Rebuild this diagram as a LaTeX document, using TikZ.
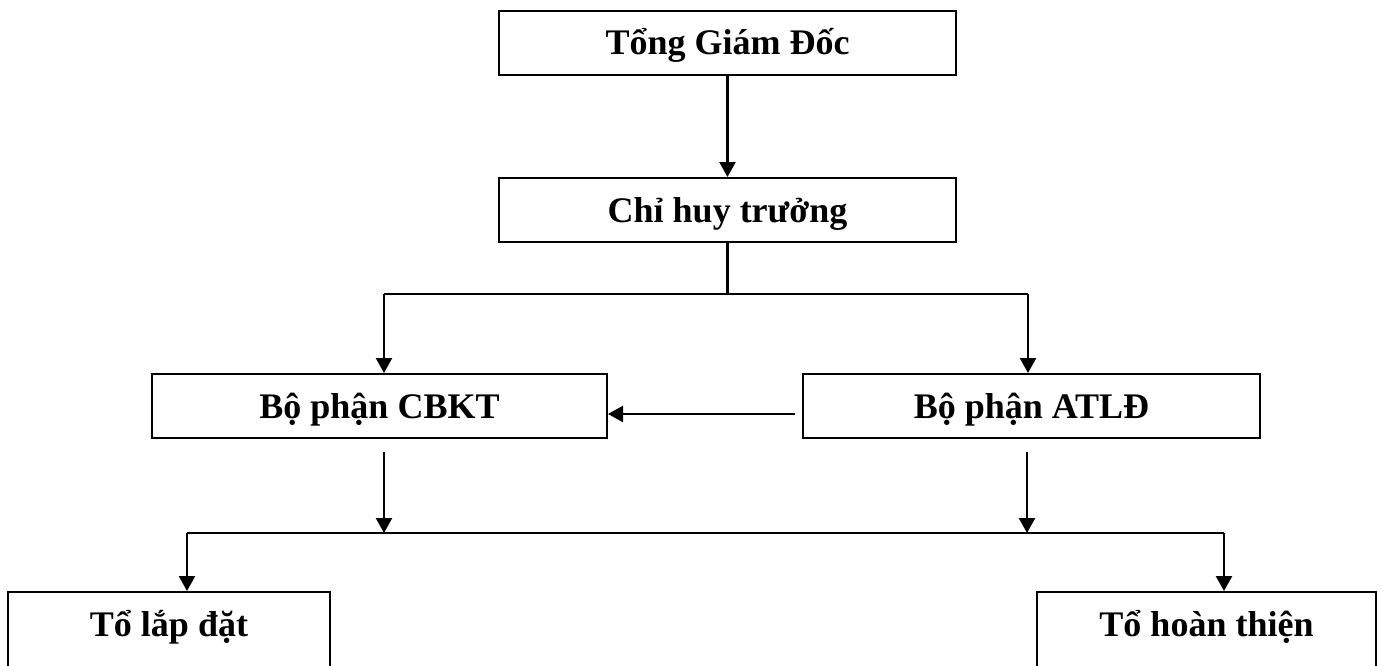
\documentclass[tikz,border=0pt]{standalone}
\usepackage{fontspec}
\setmainfont{Liberation Serif}
\usetikzlibrary{arrows.meta,calc}
\begin{document}
\begin{tikzpicture}[x=1pt,y=-1pt,
  box/.style={draw,line width=2pt,inner sep=0pt,
    font=\fontsize{36}{40}\selectfont\bfseries,
    text height=24pt,text depth=0pt,minimum height=64pt},
  lowbox/.style={draw,line width=2pt,inner xsep=0pt,inner ysep=20pt,
    font=\fontsize{36}{40}\selectfont\bfseries,
    text height=24pt,text depth=80pt,anchor=north},
  conn/.style={line width=2.4pt},
  arr/.style={line width=2.4pt,-{Triangle[width=16pt,length=15pt]}}]
\useasboundingbox (0,0) rectangle (1381,666);
\fill[white] (0,0) rectangle (1381,666);
\clip (0,0) rectangle (1381,666);

\node[box,minimum width=457pt] (tgd) at (727.5,43) {Tổng Giám Đốc};
\node[box,minimum width=457pt] (cht) at (727.5,210) {Chỉ huy trưởng};
\node[box,minimum width=455pt] (cbkt) at (379.5,406) {Bộ phận CBKT};
\node[box,minimum width=457pt] (atld) at (1031.5,406) {Bộ phận ATLĐ};
\node[lowbox,minimum width=322pt] (tld) at (169,591) {Tổ lắp đặt};
\node[lowbox,minimum width=339pt] (tht) at (1206.5,591) {Tổ hoàn thiện};

\coordinate (b1L) at (384,294);
\coordinate (b1R) at (1028,294);
\coordinate (c1) at (795,414);
\coordinate (d1) at (384,452);
\coordinate (d2) at (1027,452);
\coordinate (b2L) at (187,533);
\coordinate (b2R) at (1224,533);

\draw[arr] (tgd) -- (cht);
\draw[conn] (cht.south) -- (cht.south |- b1L);
\draw[conn] (b1L) -- (b1R);
\draw[arr] (b1L) -- (b1L |- cbkt.north);
\draw[arr] (b1R) -- (b1R |- atld.north);
\draw[arr] (c1) -- (c1 -| cbkt.east);
\draw[arr] (d1) -- (d1 |- b2L);
\draw[arr] (d2) -- (d2 |- b2R);
\draw[conn] (b2L) -- (b2R);
\draw[arr] (b2L) -- (b2L |- tld.north);
\draw[arr] (b2R) -- (b2R |- tht.north);
\end{tikzpicture}
\end{document}
